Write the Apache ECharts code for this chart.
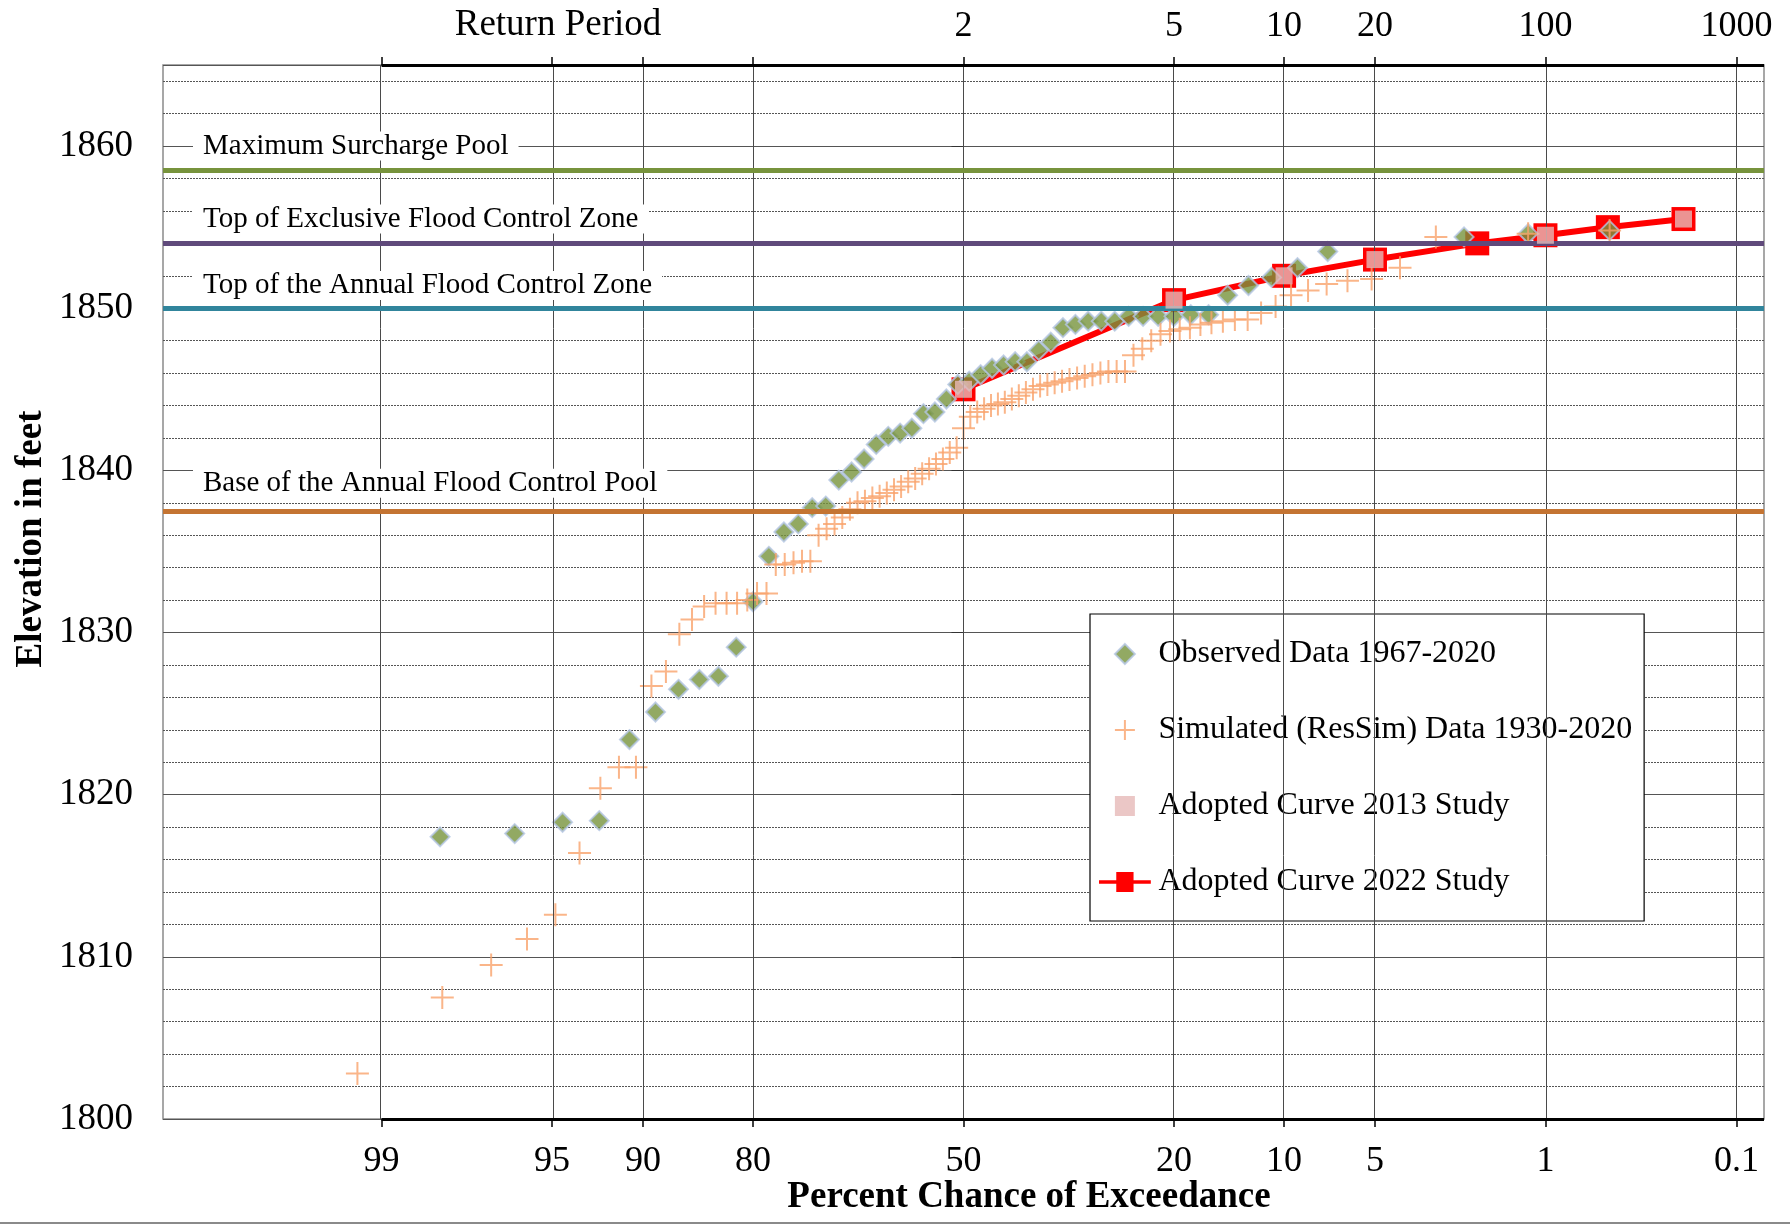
<!DOCTYPE html>
<html><head><meta charset="utf-8">
<script src="https://cdn.jsdelivr.net/npm/echarts@6/dist/echarts.min.js"></script>
<style>html,body{margin:0;padding:0;background:#fff}#c{width:1790px;height:1225px}</style>
</head><body><div id="c"></div>
<script>
// ---------------- DATA ----------------
const bottomTickPercents = [99, 95, 90, 80, 50, 20, 10, 5, 1, 0.1];
const bottomTickLabels = ['99', '95', '90', '80', '50', '20', '10', '5', '1', '0.1'];
const returnPeriods = [2, 5, 10, 20, 100, 1000];
const returnPeriodLabels = ['2', '5', '10', '20', '100', '1000'];

const observedPct = [98.18, 96.36, 94.55, 92.73, 90.91, 89.09, 87.27, 85.45, 83.64, 81.82,
  80.0, 78.18, 76.36, 74.55, 72.73, 70.91, 69.09, 67.27, 65.45, 63.64,
  61.82, 60.0, 58.18, 56.36, 54.55, 52.73, 50.91, 49.09, 47.27, 45.45,
  43.64, 41.82, 40.0, 38.18, 36.36, 34.55, 32.73, 30.91, 29.09, 27.27,
  25.45, 23.64, 21.82, 20.0, 18.18, 16.36, 14.55, 12.73, 10.91, 9.09,
  7.27, 2.27, 1.2, 0.49];
const observedElev = [1817.4, 1817.6, 1818.3, 1818.4, 1823.4, 1825.1, 1826.5, 1827.1, 1827.3, 1829.1,
  1831.9, 1834.7, 1836.2, 1836.7, 1837.7, 1837.8, 1839.4, 1839.9, 1840.7, 1841.6,
  1842.1, 1842.3, 1842.6, 1843.5, 1843.6, 1844.4, 1845.3, 1845.5, 1845.9, 1846.3,
  1846.5, 1846.7, 1846.7, 1847.4, 1847.9, 1848.8, 1849.0, 1849.2, 1849.2, 1849.2,
  1849.5, 1849.5, 1849.5, 1849.5, 1849.6, 1849.6, 1850.8, 1851.4, 1851.9, 1852.5,
  1853.5, 1854.4, 1854.6, 1854.8];

const simulatedPct = [0.49, 1.2, 2.95, 4.05, 5.14, 6.24, 7.33, 8.42, 9.52, 10.61,
  11.71, 12.8, 13.9, 14.99, 16.08, 17.18, 18.27, 19.37, 20.46, 21.55,
  22.65, 23.74, 24.84, 25.93, 27.02, 28.12, 29.21, 30.31, 31.4, 32.49,
  33.59, 34.68, 35.78, 36.87, 37.97, 39.06, 40.15, 41.25, 42.34, 43.44,
  44.53, 45.62, 46.72, 47.81, 48.91, 50.0, 51.09, 52.19, 53.28, 54.38,
  55.47, 56.56, 57.66, 58.75, 59.85, 60.94, 62.04, 63.13, 64.22, 65.32,
  66.41, 67.51, 68.6, 69.69, 70.79, 71.88, 72.98, 74.07, 75.16, 76.26,
  77.35, 78.45, 79.54, 80.63, 81.73, 82.82, 83.92, 85.01, 86.11, 87.2,
  88.29, 89.39, 90.48, 91.58, 92.67, 93.76, 94.86, 95.95, 97.05, 98.14, 99.23];
const simulatedElev = [1854.8, 1854.6, 1854.4, 1852.5, 1851.8, 1851.7, 1851.5, 1851.1, 1850.8, 1850.1,
  1849.7, 1849.3, 1849.3, 1849.2, 1849.1, 1849.0, 1848.8, 1848.7, 1848.6, 1848.4,
  1848.0, 1847.5, 1847.1, 1846.1, 1846.1, 1846.1, 1846.0, 1845.9, 1845.8, 1845.7,
  1845.6, 1845.5, 1845.4, 1845.3, 1845.2, 1845.0, 1844.8, 1844.6, 1844.4, 1844.2,
  1844.1, 1844.0, 1843.8, 1843.6, 1843.3, 1842.6, 1841.4, 1841.1, 1840.7, 1840.4,
  1840.1, 1839.8, 1839.5, 1839.3, 1839.0, 1838.8, 1838.6, 1838.4, 1838.3, 1838.1,
  1838.0, 1837.6, 1837.1, 1836.7, 1836.4, 1836.0, 1834.4, 1834.4, 1834.3, 1834.2,
  1834.2, 1832.4, 1832.4, 1832.0, 1831.8, 1831.8, 1831.8, 1831.6, 1830.8, 1829.9,
  1827.6, 1826.7, 1821.7, 1821.7, 1820.4, 1816.4, 1812.6, 1811.1, 1809.5, 1807.5, 1802.8];

const adopted2013Pct = [50, 20, 10, 5, 1, 0.2];
const adopted2013Elev = [1845.0, 1850.5, 1852.0, 1853.0, 1854.5, 1855.5];
const adopted2022Pct = [50, 20, 10, 5, 2, 1, 0.5, 0.2];
const adopted2022Elev = [1845.0, 1850.5, 1852.0, 1853.0, 1854.0, 1854.5, 1855.0, 1855.5];

const refNames = ['Maximum Surcharge Pool', 'Top of Exclusive Flood Control Zone',
  'Top of the Annual Flood Control Zone', 'Base of the Annual Flood Control Pool'];
const refElev = [1858.5, 1854.0, 1850.0, 1837.5];

const seriesNames = ['Observed Data 1967-2020', 'Simulated (ResSim) Data 1930-2020',
  'Adopted Curve 2013 Study', 'Adopted Curve 2022 Study'];

// ---------------- STYLE / LAYOUT ----------------
const refColors = ['#77933C', '#604A7B', '#31859C', '#C47432'];
const refLabelAnchor = [1860, 1855.5, 1851.4, 1839.2];
const FONT = '"Liberation Serif", "Times New Roman", serif';
const Z_MIN = -3.2, Z_MAX = 3.2, Y_MIN = 1800, Y_MAX = 1865;

// inverse standard normal (Acklam) -> normal probability scale
function normInv(p) {
  const a = [-3.969683028665376e+01, 2.209460984245205e+02, -2.759285104469687e+02, 1.383577518672690e+02, -3.066479806614716e+01, 2.506628277459239e+00];
  const b = [-5.447609879822406e+01, 1.615858368580409e+02, -1.556989798598866e+02, 6.680131188771972e+01, -1.328068155288572e+01];
  const c = [-7.784894002430293e-03, -3.223964580411365e-01, -2.400758277161838e+00, -2.549732539343734e+00, 4.374664141464968e+00, 2.938163982698783e+00];
  const d = [7.784695709041462e-03, 3.224671290700398e-01, 2.445134137142996e+00, 3.754408661907416e+00];
  const pl = 0.02425, ph = 1 - pl;
  let q, r;
  if (p < pl) {
    q = Math.sqrt(-2 * Math.log(p));
    return (((((c[0]*q+c[1])*q+c[2])*q+c[3])*q+c[4])*q+c[5]) / ((((d[0]*q+d[1])*q+d[2])*q+d[3])*q+1);
  } else if (p <= ph) {
    q = p - 0.5; r = q * q;
    return (((((a[0]*r+a[1])*r+a[2])*r+a[3])*r+a[4])*r+a[5])*q / (((((b[0]*r+b[1])*r+b[2])*r+b[3])*r+b[4])*r+1);
  } else {
    q = Math.sqrt(-2 * Math.log(1 - p));
    return -(((((c[0]*q+c[1])*q+c[2])*q+c[3])*q+c[4])*q+c[5]) / ((((d[0]*q+d[1])*q+d[2])*q+d[3])*q+1);
  }
}
const zOf = pct => normInv(1 - pct / 100);
const pairs = (ps, es) => ps.map((p, i) => [zOf(p), es[i]]);

const bottomZ = bottomTickPercents.map(zOf);
const topZ = returnPeriods.map(T => zOf(100 / T));
function labelFor(v, zs, labels) {
  for (let i = 0; i < zs.length; i++) if (Math.abs(zs[i] - v) < 1e-6) return labels[i];
  return '';
}

const chart = echarts.init(document.getElementById('c'), null, { renderer: 'canvas' });
const plusPath = 'path://M12,0 L12,24 M0,12 L24,12';
const diamondPath = 'path://M10,0 L20,10 L10,20 L0,10 Z';
const squarePath = 'path://M0,0 L20,0 L20,20 L0,20 Z';
const lineSquarePath = 'path://M0,9 L19,9 L19,0 L38,0 L38,9 L57,9 L57,13 L38,13 L38,22 L19,22 L19,13 L0,13 Z';

const option = {
  animation: false,
  backgroundColor: '#fff',
  grid: { left: 163, top: 65, width: 1601, height: 1054, show: true, borderColor: '#8a8a8a', borderWidth: 1.5, backgroundColor: '#fff' },
  xAxis: [
    {
      type: 'value', position: 'bottom', min: Z_MIN, max: Z_MAX,
      axisLine: { show: false }, splitLine: { show: false },
      axisTick: { show: true, customValues: bottomZ, length: 8, lineStyle: { color: '#000', width: 1.5 } },
      axisLabel: { show: true, customValues: bottomZ, margin: 25, fontFamily: FONT, fontSize: 36, color: '#000',
        formatter: v => labelFor(v, bottomZ, bottomTickLabels) }
    },
    {
      type: 'value', position: 'top', min: Z_MIN, max: Z_MAX,
      axisLine: { show: false }, splitLine: { show: false },
      axisTick: { show: true, customValues: bottomZ, length: 8, lineStyle: { color: '#000', width: 1.5 } },
      axisLabel: { show: true, customValues: topZ, margin: 20, fontFamily: FONT, fontSize: 36, color: '#000',
        formatter: v => labelFor(v, topZ, returnPeriodLabels) }
    }
  ],
  yAxis: [
    {
      type: 'value', position: 'left', min: Y_MIN, max: Y_MAX, interval: 10,
      axisLine: { show: false },
      axisTick: { show: true, length: 12, lineStyle: { color: '#333', width: 1 } },
      axisLabel: { margin: 30, fontFamily: FONT, fontSize: 37, color: '#000',
        formatter: v => (v % 10 === 0 && v <= 1860) ? String(v) : '' },
      splitLine: { show: true, lineStyle: { color: '#555', width: 1, type: 'solid' } }
    },
    {
      type: 'value', position: 'left', min: Y_MIN, max: Y_MAX, interval: 2,
      axisLine: { show: false }, axisTick: { show: false }, axisLabel: { show: false },
      splitLine: { show: true, lineStyle: { color: '#555', width: 1, type: [2, 1] } }
    }
  ],
  legend: {
    orient: 'vertical', left: 1090, top: 614, padding: [21, 12, 20, 9], itemGap: 38,
    itemWidth: 57, itemHeight: 20, backgroundColor: '#fff', borderColor: '#000', borderWidth: 1.2,
    selectedMode: false,
    textStyle: { fontFamily: FONT, fontSize: 32, color: '#000', lineHeight: 38 },
    data: [
      { name: seriesNames[0], icon: diamondPath },
      { name: seriesNames[1] },
      { name: seriesNames[2], icon: squarePath },
      { name: seriesNames[3], icon: lineSquarePath }
    ]
  },
  series: [
    {
      name: 'refs', type: 'line', data: [], z: 1, silent: true,
      markLine: {
        silent: true, symbol: ['none', 'none'], label: { show: false }, animation: false,
        emphasis: { disabled: true },
        data: [
          ...bottomZ.map(z => ({ xAxis: z, lineStyle: { color: '#4a4a4a', width: 1, type: 'solid' } })),
          ...refElev.map((v, i) => ({ yAxis: v, lineStyle: { color: refColors[i], width: 5, type: 'solid' } })),
          [{ coord: [zOf(99), Y_MIN], lineStyle: { color: '#000', width: 3, type: 'solid' } }, { coord: [Z_MAX, Y_MIN] }],
          [{ coord: [zOf(99), Y_MAX], lineStyle: { color: '#000', width: 3, type: 'solid' } }, { coord: [Z_MAX, Y_MAX] }]
        ]
      }
    },
    {
      name: seriesNames[3], type: 'line', z: 2, data: pairs(adopted2022Pct, adopted2022Elev),
      symbol: 'rect', symbolSize: 24, showSymbol: true,
      lineStyle: { color: '#FF0000', width: 6 }, itemStyle: { color: '#FF0000' },
      emphasis: { disabled: true }
    },
    {
      name: seriesNames[0], type: 'scatter', z: 3, data: pairs(observedPct, observedElev),
      symbol: diamondPath, symbolSize: 19,
      itemStyle: { color: '#77933C', borderColor: '#B4C5E4', borderWidth: 2 },
      emphasis: { disabled: true }
    },
    {
      name: seriesNames[1], type: 'scatter', z: 4, data: pairs(simulatedPct, simulatedElev),
      symbol: plusPath, symbolSize: 23,
      itemStyle: { color: 'rgba(0,0,0,0)', borderColor: '#F9A36C', borderWidth: 2 },
      emphasis: { disabled: true }
    },
    {
      name: seriesNames[2], type: 'scatter', z: 5, data: pairs(adopted2013Pct, adopted2013Elev),
      symbol: 'rect', symbolSize: 17,
      itemStyle: { color: '#E6B9B8' },
      emphasis: { disabled: true }
    }
  ]
};
chart.setOption(option);

// text labels placed through the axis scale
const graphics = [
  { type: 'text', z: 10, style: { text: 'Return Period', x: 558, y: 25, align: 'center', verticalAlign: 'middle',
      textAlign: 'center', textVerticalAlign: 'middle', font: '37px ' + FONT, fill: '#000' } },
  { type: 'text', z: 10, style: { text: 'Percent Chance of Exceedance', x: 1029, y: 1197, align: 'center', verticalAlign: 'middle',
      textAlign: 'center', textVerticalAlign: 'middle', font: 'bold 37px ' + FONT, fill: '#000' } },
  { type: 'text', z: 10, x: 31, y: 539, rotation: Math.PI / 2,
    style: { text: 'Elevation in feet', x: 0, y: 0, align: 'center', verticalAlign: 'middle',
      textAlign: 'center', textVerticalAlign: 'middle', font: 'bold 37px ' + FONT, fill: '#000' } },
  { type: 'rect', z: 10, shape: { x: 0, y: 1222, width: 1790, height: 2 }, style: { fill: '#8a8a8a' } }
];
refNames.forEach((name, i) => {
  const py = chart.convertToPixel({ yAxisIndex: 0 }, refLabelAnchor[i]);
  graphics.push({ type: 'text', z: 6, style: { text: name, x: 193, y: py, align: 'left', verticalAlign: 'middle',
    textAlign: 'left', textVerticalAlign: 'middle', font: '29px ' + FONT, fill: '#000',
    backgroundColor: '#fff', padding: [0, 10, 0, 10] } });
});
chart.setOption({ graphic: graphics });
</script>
</body></html>
